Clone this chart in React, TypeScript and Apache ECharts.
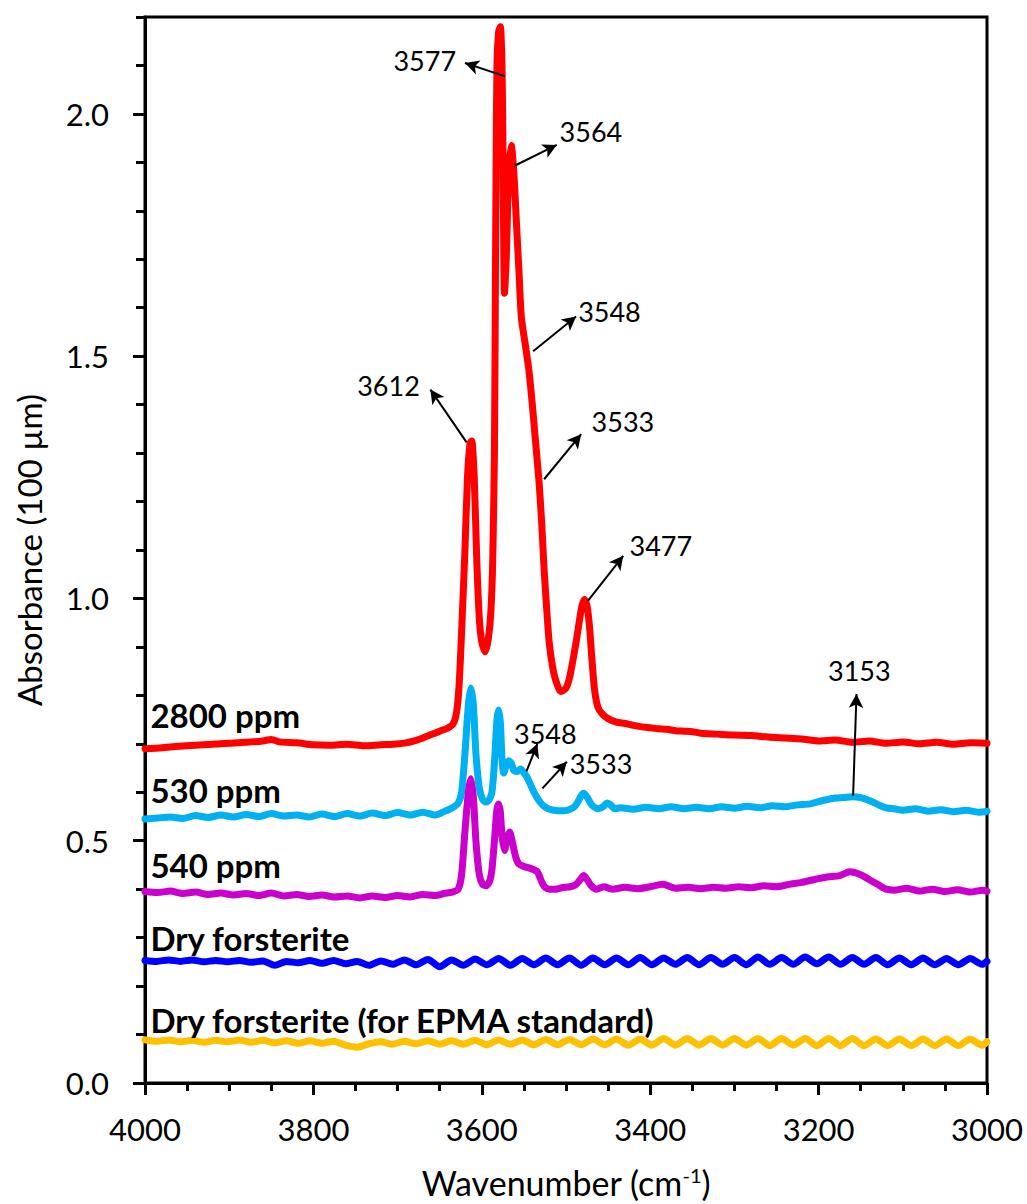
import React, { useEffect, useRef } from "react";
import * as echarts from "echarts";

// Wavenumber grid (cm-1) used by the two dry forsterite spectra
const wnDry = [
  4000, 3986, 3972, 3958, 3944, 3930, 3916, 3902, 3888, 3874, 3860, 3846, 3832, 3818, 3804, 3790,
  3776, 3762, 3748, 3734, 3720, 3706, 3692, 3678, 3664, 3650, 3636, 3622, 3608, 3594, 3580, 3566,
  3552, 3538, 3524, 3510, 3496, 3482, 3468, 3454, 3440, 3426, 3412, 3398, 3384, 3370, 3356, 3342,
  3328, 3314, 3300, 3286, 3272, 3258, 3244, 3230, 3216, 3202, 3188, 3174, 3160, 3146, 3132, 3118,
  3104, 3090, 3076, 3062, 3048, 3034, 3020, 3006, 3000,
];

const dryBlue = [
  0.253, 0.251, 0.254, 0.251, 0.254, 0.25, 0.253, 0.25, 0.253, 0.249, 0.252, 0.243, 0.251, 0.248, 0.253, 0.247,
  0.253, 0.246, 0.251, 0.243, 0.252, 0.245, 0.254, 0.244, 0.255, 0.24, 0.254, 0.243, 0.256, 0.244, 0.257, 0.243,
  0.257, 0.244, 0.258, 0.244, 0.258, 0.243, 0.258, 0.244, 0.258, 0.244, 0.259, 0.244, 0.258, 0.245, 0.259, 0.244,
  0.259, 0.245, 0.259, 0.244, 0.26, 0.245, 0.259, 0.245, 0.26, 0.246, 0.26, 0.245, 0.259, 0.245, 0.259, 0.244,
  0.258, 0.244, 0.258, 0.244, 0.257, 0.244, 0.257, 0.245, 0.251,
];

const dryEpma = [
  0.089, 0.086, 0.089, 0.085, 0.088, 0.084, 0.088, 0.085, 0.089, 0.084, 0.088, 0.083, 0.087, 0.082, 0.087, 0.082,
  0.086, 0.078, 0.074, 0.081, 0.085, 0.08, 0.086, 0.081, 0.087, 0.08, 0.087, 0.08, 0.088, 0.079, 0.089, 0.08,
  0.089, 0.079, 0.09, 0.079, 0.09, 0.079, 0.091, 0.079, 0.091, 0.078, 0.091, 0.078, 0.092, 0.078, 0.092, 0.078,
  0.092, 0.078, 0.092, 0.078, 0.092, 0.077, 0.092, 0.078, 0.092, 0.077, 0.092, 0.077, 0.092, 0.077, 0.091, 0.077,
  0.091, 0.077, 0.091, 0.077, 0.091, 0.077, 0.091, 0.078, 0.085,
];

// [wavenumber, absorbance]
const red2800 = [
  [4000, 0.69], [3980, 0.692], [3960, 0.695], [3940, 0.697], [3920, 0.699], [3900, 0.701], [3880, 0.703],
  [3860, 0.706], [3850, 0.709], [3840, 0.704], [3820, 0.702], [3800, 0.698], [3780, 0.697], [3760, 0.699],
  [3740, 0.696], [3720, 0.698], [3705, 0.699], [3690, 0.702], [3680, 0.706], [3670, 0.712], [3660, 0.719],
  [3650, 0.726], [3640, 0.733], [3634, 0.741], [3630, 0.765], [3627, 0.82], [3624, 0.93], [3620, 1.1],
  [3617, 1.25], [3614, 1.32], [3612, 1.325], [3609, 1.25], [3606, 1.08], [3603, 0.96], [3600, 0.91],
  [3596, 0.89], [3592, 0.92], [3589, 0.98], [3587, 1.08], [3585, 1.3], [3584, 1.6], [3583, 1.9],
  [3582, 2.1], [3580, 2.17], [3578, 2.18], [3576, 2.1], [3575, 1.95], [3573, 1.63], [3571, 1.7],
  [3568, 1.88], [3565, 1.935], [3562, 1.88], [3559, 1.78], [3556, 1.68], [3553, 1.58], [3548, 1.52],
  [3544, 1.47], [3540, 1.4], [3536, 1.32], [3532, 1.24], [3529, 1.16], [3526, 1.06], [3523, 0.98],
  [3520, 0.91], [3516, 0.86], [3512, 0.83], [3506, 0.808], [3500, 0.815], [3496, 0.835], [3492, 0.87],
  [3488, 0.91], [3484, 0.955], [3481, 0.985], [3478, 0.998], [3475, 0.985], [3472, 0.94], [3469, 0.87],
  [3466, 0.81], [3462, 0.775], [3457, 0.762], [3450, 0.752], [3440, 0.745], [3430, 0.742], [3420, 0.738],
  [3410, 0.735], [3400, 0.733], [3390, 0.731], [3380, 0.73], [3370, 0.727], [3360, 0.726], [3350, 0.725],
  [3340, 0.722], [3320, 0.72], [3300, 0.718], [3280, 0.717], [3260, 0.714], [3240, 0.712], [3220, 0.71],
  [3200, 0.706], [3180, 0.708], [3160, 0.703], [3140, 0.706], [3120, 0.701], [3100, 0.704], [3080, 0.7],
  [3060, 0.703], [3040, 0.699], [3020, 0.702], [3000, 0.701],
];

const cyan530 = [
  [4000, 0.545], [3985, 0.547], [3970, 0.549], [3955, 0.546], [3940, 0.552], [3925, 0.548], [3910, 0.553],
  [3895, 0.549], [3880, 0.554], [3865, 0.55], [3850, 0.556], [3835, 0.551], [3820, 0.553], [3805, 0.549],
  [3790, 0.555], [3775, 0.55], [3760, 0.556], [3745, 0.551], [3730, 0.557], [3715, 0.552], [3700, 0.558],
  [3685, 0.553], [3670, 0.559], [3655, 0.553], [3645, 0.56], [3635, 0.568], [3628, 0.578], [3624, 0.6],
  [3620, 0.68], [3616, 0.78], [3613, 0.815], [3610, 0.78], [3607, 0.68], [3603, 0.61], [3599, 0.585],
  [3595, 0.58], [3591, 0.585], [3588, 0.6], [3585, 0.66], [3582, 0.75], [3580, 0.77], [3578, 0.745],
  [3576, 0.67], [3574, 0.64], [3571, 0.655], [3568, 0.665], [3565, 0.66], [3562, 0.645], [3558, 0.643],
  [3554, 0.648], [3550, 0.64], [3546, 0.63], [3542, 0.615], [3538, 0.6], [3534, 0.588], [3530, 0.578],
  [3525, 0.57], [3518, 0.564], [3510, 0.562], [3502, 0.562], [3495, 0.565], [3490, 0.57], [3486, 0.58],
  [3482, 0.593], [3479, 0.598], [3475, 0.59], [3471, 0.578], [3467, 0.57], [3462, 0.566], [3456, 0.57],
  [3451, 0.578], [3447, 0.574], [3442, 0.566], [3435, 0.568], [3420, 0.565], [3405, 0.569], [3390, 0.566],
  [3375, 0.57], [3360, 0.566], [3345, 0.569], [3330, 0.566], [3315, 0.57], [3300, 0.567], [3285, 0.571],
  [3270, 0.568], [3255, 0.572], [3240, 0.57], [3225, 0.574], [3210, 0.576], [3195, 0.583], [3180, 0.588],
  [3170, 0.589], [3160, 0.591], [3150, 0.589], [3140, 0.583], [3130, 0.575], [3120, 0.568], [3110, 0.566],
  [3100, 0.563], [3085, 0.566], [3070, 0.561], [3055, 0.564], [3040, 0.56], [3025, 0.563], [3010, 0.559],
  [3000, 0.561],
];

const mag540 = [
  [4000, 0.395], [3985, 0.393], [3970, 0.396], [3955, 0.391], [3940, 0.394], [3925, 0.389], [3910, 0.392],
  [3895, 0.388], [3880, 0.391], [3865, 0.387], [3850, 0.392], [3835, 0.386], [3820, 0.389], [3805, 0.385],
  [3790, 0.388], [3775, 0.384], [3760, 0.386], [3745, 0.382], [3730, 0.386], [3715, 0.383], [3700, 0.387],
  [3685, 0.384], [3670, 0.389], [3655, 0.387], [3645, 0.391], [3635, 0.394], [3628, 0.4], [3624, 0.43],
  [3620, 0.52], [3616, 0.6], [3613, 0.628], [3610, 0.59], [3607, 0.5], [3603, 0.43], [3599, 0.41],
  [3595, 0.407], [3591, 0.415], [3588, 0.44], [3585, 0.5], [3582, 0.565], [3580, 0.576], [3578, 0.56],
  [3576, 0.51], [3573, 0.48], [3570, 0.505], [3567, 0.518], [3564, 0.5], [3560, 0.468], [3556, 0.452],
  [3550, 0.447], [3544, 0.444], [3538, 0.44], [3534, 0.436], [3530, 0.42], [3526, 0.406], [3520, 0.4],
  [3512, 0.4], [3505, 0.403], [3495, 0.405], [3488, 0.41], [3483, 0.42], [3479, 0.428], [3475, 0.42],
  [3470, 0.407], [3464, 0.4], [3455, 0.405], [3445, 0.4], [3430, 0.404], [3415, 0.401], [3400, 0.405],
  [3385, 0.41], [3370, 0.402], [3355, 0.404], [3340, 0.401], [3325, 0.404], [3310, 0.402], [3295, 0.405],
  [3280, 0.403], [3265, 0.407], [3250, 0.405], [3235, 0.41], [3220, 0.414], [3205, 0.42], [3190, 0.425],
  [3175, 0.428], [3163, 0.436], [3150, 0.43], [3140, 0.42], [3130, 0.41], [3120, 0.4], [3110, 0.398],
  [3095, 0.402], [3080, 0.396], [3065, 0.4], [3050, 0.395], [3035, 0.399], [3020, 0.394], [3005, 0.398],
  [3000, 0.396],
];

// Peak annotations: arrow tail (on spectrum) -> arrow head, in data units
const arrowFrom = [
  [3573, 2.078], [3561, 1.893], [3539, 1.51], [3526, 1.246], [3618, 1.322],
  [3474, 0.995], [3159, 0.593], [3547, 0.643], [3528, 0.608],
];
const arrowTo = [
  [3620, 2.105], [3511, 1.936], [3488, 1.582], [3482, 1.339], [3661, 1.431],
  [3432, 1.088], [3155, 0.803], [3534, 0.7], [3499, 0.663],
];
const peakTexts = ["3577", "3564", "3548", "3533", "3612", "3477", "3153", "3548", "3533"];
const peakTextAt = [
  [3630, 2.109], [3507, 1.963], [3485, 1.592], [3469, 1.364], [3673, 1.438],
  [3424, 1.108], [3151, 0.851], [3524, 0.721], [3495, 0.659],
];
const peakTextAlign = ["right", "left", "left", "left", "right", "left", "center", "center", "left"];

const sampleNames = ["2800 ppm", "530 ppm", "540 ppm", "Dry forsterite", "Dry forsterite (for EPMA standard)"];
const sampleNameAt = [[3993, 0.758], [3993, 0.604], [3993, 0.449], [3993, 0.299], [3993, 0.13]];

const colors = ["#FF0000", "#00B0F0", "#CC00CC", "#0000FF", "#FFC000"];

export default function App() {
  const ref = useRef<HTMLDivElement>(null);

  useEffect(() => {
    document.body.style.margin = "0";
    if (!ref.current) return;
    const chart = echarts.init(ref.current, undefined, { renderer: "svg" });
    const font = "Lato";
    const lineSeries = (name: string, data: number[][], color: string) => ({
      name,
      type: "line",
      data,
      showSymbol: false,
      symbol: "none",
      smooth: 0.25,
      clip: true,
      lineStyle: { color, width: 7, cap: "round", join: "round" },
      emphasis: { disabled: true },
    });
    const option: any = {
      animation: false,
      textStyle: { fontFamily: font },
      grid: {
        left: 145, right: 40, top: 17, bottom: 119,
        show: true, borderColor: "#000", borderWidth: 3,
      },
      xAxis: {
        type: "value",
        min: 3000,
        max: 4000,
        interval: 200,
        inverse: true,
        name: "Wavenumber (cm{sup|-1})",
        nameLocation: "middle",
        nameGap: 82,
        nameTextStyle: {
          fontSize: 34, color: "#000", fontFamily: font,
          rich: { sup: { fontSize: 20, verticalAlign: "top", color: "#000", fontFamily: font, padding: [0, 0, 10, 0] } },
        },
        axisLine: { show: true, onZero: false, lineStyle: { color: "#000", width: 3 } },
        axisTick: { show: true, inside: false, length: 12, lineStyle: { color: "#000", width: 3 } },
        minorTick: { show: true, splitNumber: 4, length: 8, lineStyle: { color: "#000", width: 3 } },
        axisLabel: { fontSize: 31, color: "#000", margin: 30, fontFamily: font, formatter: (v: number) => String(v) },
        splitLine: { show: false },
      },
      yAxis: [
        {
          type: "value",
          min: 0,
          max: 2.2,
          interval: 0.5,
          position: "left",
          name: "Absorbance (100 µm)",
          nameLocation: "middle",
          nameGap: 100,
          nameTextStyle: { fontSize: 33, color: "#000", fontFamily: font },
          axisLine: { show: true, onZero: false, lineStyle: { color: "#000", width: 3 } },
          axisTick: { show: true, inside: false, length: 12, lineStyle: { color: "#000", width: 3 } },
          axisLabel: {
            fontSize: 31, color: "#000", margin: 36, fontFamily: font,
            showMaxLabel: false,
            formatter: (v: number) => v.toFixed(1),
          },
          splitLine: { show: false },
        },
        {
          type: "value",
          min: 0,
          max: 2.2,
          interval: 0.1,
          position: "left",
          axisLine: { show: false },
          axisTick: { show: true, inside: false, length: 9, lineStyle: { color: "#000", width: 3 } },
          axisLabel: { show: false },
          splitLine: { show: false },
        },
      ],
      series: [
        lineSeries("2800 ppm", red2800, colors[0]),
        lineSeries("530 ppm", cyan530, colors[1]),
        lineSeries("540 ppm", mag540, colors[2]),
        lineSeries("Dry forsterite", wnDry.map((w, i) => [w, dryBlue[i]]), colors[3]),
        lineSeries("Dry forsterite (for EPMA standard)", wnDry.map((w, i) => [w, dryEpma[i]]), colors[4]),
        {
          type: "scatter",
          symbol: "circle",
          symbolSize: 1,
          itemStyle: { color: "rgba(0,0,0,0)", opacity: 1 },
          silent: true,
          z: 10,
          data: peakTexts.map((t, i) => ({
            value: [peakTextAt[i][0], peakTextAt[i][1]],
            label: {
              show: true,
              position: [0, 0],
              align: peakTextAlign[i],
              verticalAlign: "middle",
              formatter: t,
              fontSize: 27,
              color: "#000",
              opacity: 1,
              textBorderWidth: 0,
              fontFamily: font,
            },
          })),
          markLine: {
            silent: true,
            symbol: ["none", "arrow"],
            symbolSize: [11, 14],
            label: { show: false },
            lineStyle: { color: "#000", width: 2, type: "solid", opacity: 1 },
            emphasis: { disabled: true },
            data: arrowFrom.map((f, i) => [
              { coord: [f[0], f[1]] },
              { coord: [arrowTo[i][0], arrowTo[i][1]] },
            ]),
          },
        },
        {
          type: "scatter",
          symbol: "circle",
          symbolSize: 1,
          itemStyle: { color: "rgba(0,0,0,0)", opacity: 1 },
          silent: true,
          z: 10,
          data: sampleNames.map((t, i) => ({
            value: [sampleNameAt[i][0], sampleNameAt[i][1]],
            label: {
              show: true,
              position: [0, 0],
              align: "left",
              verticalAlign: "middle",
              formatter: t,
              fontSize: 33,
              fontWeight: "bold",
              color: "#000",
              opacity: 1,
              textBorderWidth: 0,
              fontFamily: font,
            },
          })),
        },
      ],
    };
    chart.setOption(option);
    return () => chart.dispose();
  }, []);

  return <div ref={ref} style={{ width: 1027, height: 1204 }} />;
}
